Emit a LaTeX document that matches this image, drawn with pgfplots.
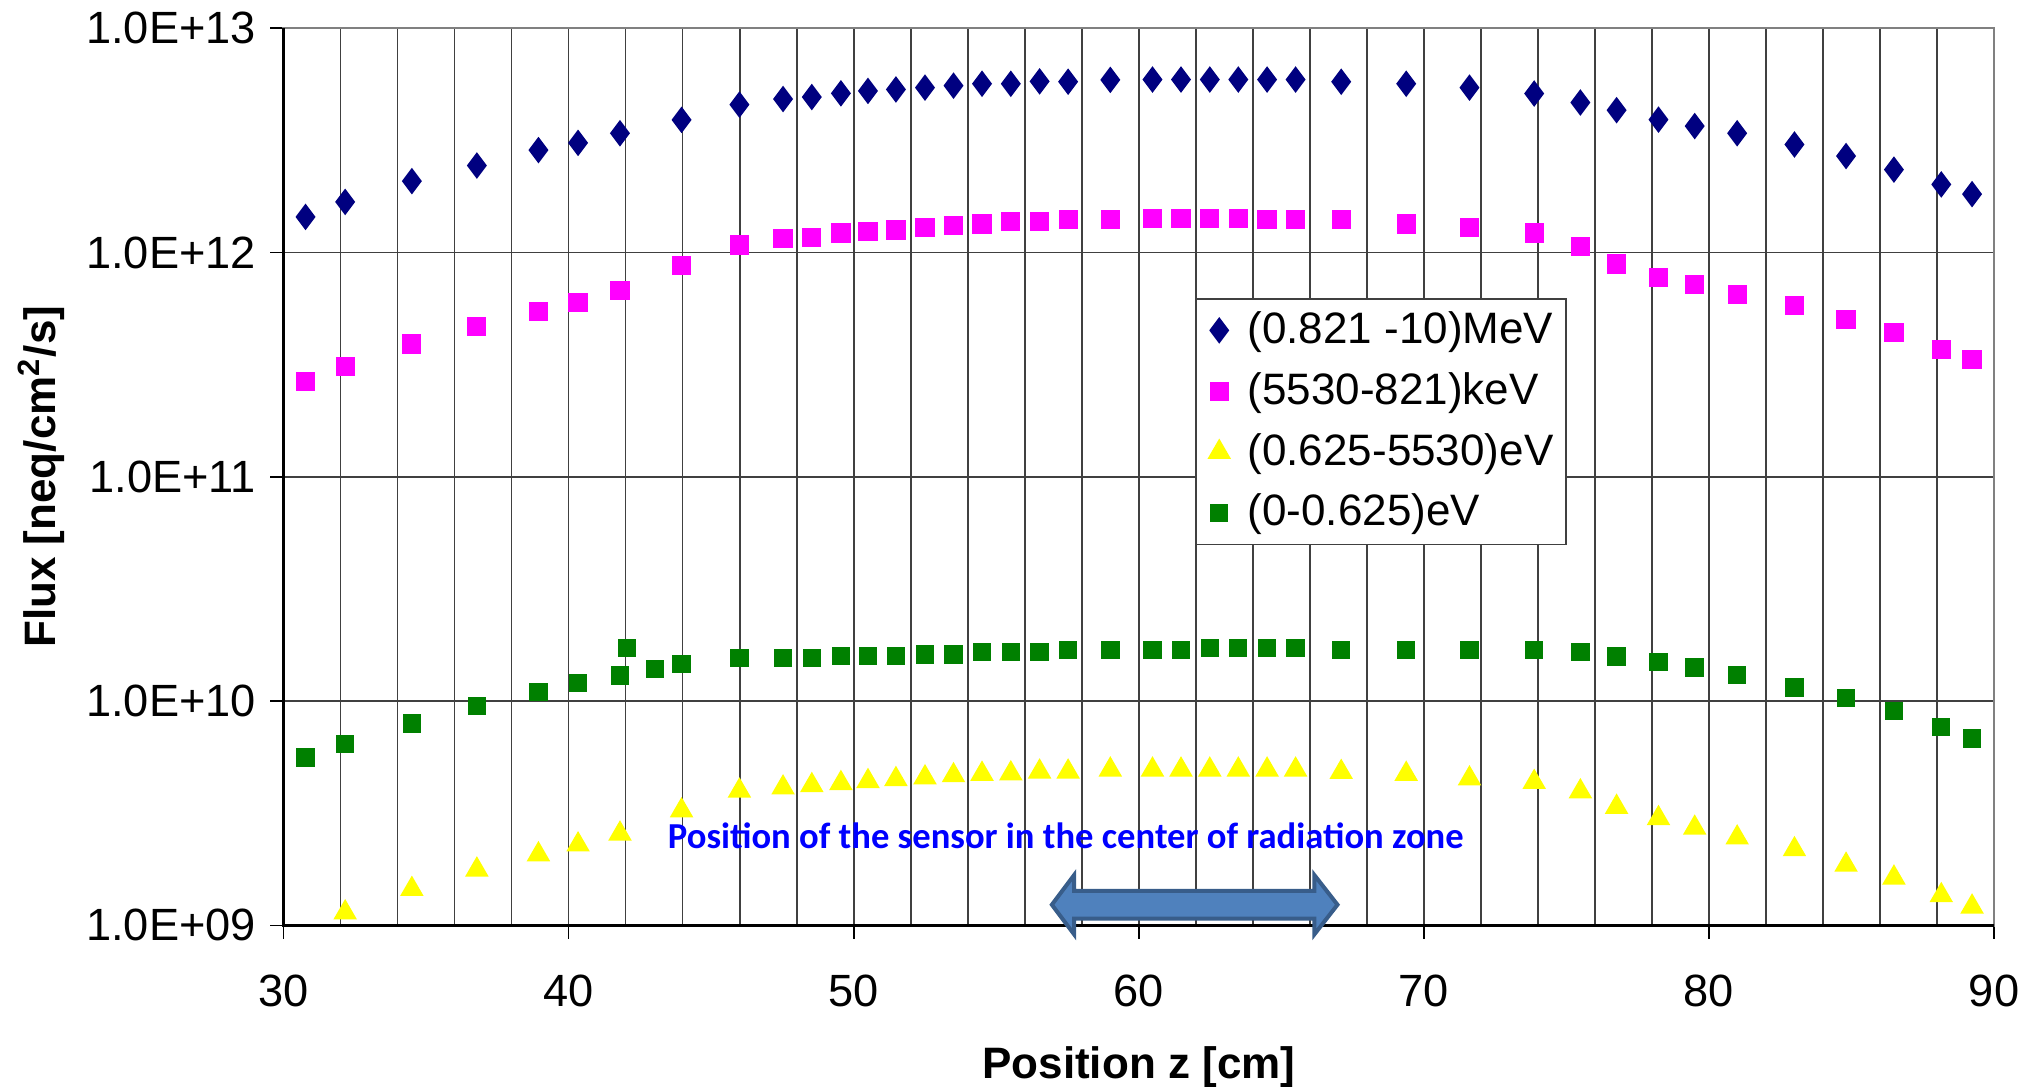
\documentclass[border=0pt]{standalone}
\usepackage{fontspec}
\setmainfont{Liberation Sans}
\newfontfamily\calibri{Carlito}
\usepackage{pgfplots}
\pgfplotsset{compat=1.18}

\definecolor{fluxnavy}{RGB}{0,0,128}
\definecolor{fluxpink}{RGB}{255,0,255}
\definecolor{fluxyellow}{RGB}{255,255,0}
\definecolor{fluxgreen}{RGB}{0,128,0}
\definecolor{annblue}{RGB}{0,0,255}
\definecolor{arrowfill}{RGB}{79,129,189}
\definecolor{arrowedge}{RGB}{56,93,138}

\begin{document}
\begin{tikzpicture}
\useasboundingbox (0,0) rectangle (505.25pt,271.75pt);
\begin{axis}[
  at={(70.9pt,40.4pt)}, anchor=south west,
  scale only axis, width=427.6pt, height=224.3pt,
  xmin=30, xmax=90,
  ymode=log, ymin=1e9, ymax=1e13,
  xtick={30,40,50,60,70,80,90},
  minor x tick num=4,
  ytick={1e9,1e10,1e11,1e12,1e13},
  yticklabels={1.0E+09,1.0E+10,1.0E+11,1.0E+12,1.0E+13},
  yminorticks=false,
  /pgf/number format/assume math mode=true,
  tick pos=left, tick align=outside,
  major tick length=3.4pt, minor tick length=0pt,
  tick style={black, line width=0.4pt},
  xmajorgrids, xminorgrids, ymajorgrids,
  major grid style={black!75, line width=0.4pt},
  minor grid style={black!75, line width=0.4pt},
  axis line style={draw=black!50, line width=0.6pt},
  tick label style={font=\fontsize{11.3}{13}\selectfont},
  xticklabel style={yshift=-5.5pt},
  xlabel={Position z [cm]},
  ylabel={Flux [neq/cm\textsuperscript{2}/s]},
  label style={font=\bfseries\fontsize{11}{13}\selectfont},
  xlabel style={at={(rel axis cs:0.5,-0.158)}, anchor=center},
  ylabel style={at={(rel axis cs:-0.1417,0.5)}, anchor=center},
  legend cell align=left,
  legend style={at={(rel axis cs:0.533,0.699)}, anchor=north west,
    draw=black!75, fill=white, font=\fontsize{11}{13}\selectfont,
    row sep=1.75pt, inner xsep=3.2pt, inner ysep=1.1pt,
    nodes={inner xsep=0pt},
    /tikz/every odd column/.append style={column sep=4.5pt}},
  clip=false,
]
\addplot[only marks, mark=diamond*, mark size=3pt, color=fluxnavy] coordinates {
(30.77,1.44e12) (32.16,1.68e12) (34.50,2.08e12) (36.78,2.44e12) (38.94,2.86e12)
(40.33,3.08e12) (41.80,3.40e12) (43.96,3.90e12) (45.99,4.56e12) (47.52,4.83e12)
(48.53,4.93e12) (49.55,5.12e12) (50.50,5.25e12) (51.48,5.33e12) (52.50,5.43e12)
(53.50,5.54e12) (54.50,5.65e12) (55.51,5.65e12) (56.52,5.79e12) (57.52,5.77e12)
(59.00,5.88e12) (60.48,5.90e12) (61.48,5.90e12) (62.49,5.90e12) (63.49,5.90e12)
(64.50,5.90e12) (65.50,5.90e12) (67.10,5.77e12) (69.38,5.65e12) (71.60,5.43e12)
(73.87,5.11e12) (75.49,4.66e12) (76.76,4.31e12) (78.23,3.91e12) (79.50,3.66e12)
(80.99,3.40e12) (83.00,3.03e12) (84.81,2.69e12) (86.49,2.34e12) (88.15,2.01e12)
(89.23,1.82e12)
};
\addlegendentry{(0.821 -10)MeV}
\addplot[only marks, mark=square*, mark size=2.2pt, color=fluxpink] coordinates {
(30.77,2.65e11) (32.16,3.10e11) (34.50,3.91e11) (36.78,4.68e11) (38.94,5.46e11)
(40.33,6.00e11) (41.80,6.76e11) (43.96,8.74e11) (45.99,1.08e12) (47.52,1.15e12)
(48.53,1.17e12) (49.55,1.22e12) (50.50,1.24e12) (51.48,1.26e12) (52.50,1.29e12)
(53.50,1.32e12) (54.50,1.34e12) (55.51,1.37e12) (56.52,1.37e12) (57.52,1.40e12)
(59.00,1.40e12) (60.48,1.42e12) (61.48,1.42e12) (62.49,1.42e12) (63.49,1.42e12)
(64.50,1.40e12) (65.50,1.40e12) (67.10,1.40e12) (69.38,1.34e12) (71.60,1.29e12)
(73.87,1.22e12) (75.49,1.06e12) (76.76,8.89e11) (78.23,7.76e11) (79.50,7.17e11)
(80.99,6.49e11) (83.00,5.78e11) (84.81,5.04e11) (86.49,4.40e11) (88.15,3.68e11)
(89.23,3.34e11)
};
\addlegendentry{(5530-821)keV}
\addplot[only marks, mark=triangle*, mark size=3pt, color=fluxyellow] coordinates {
(32.16,1.14e9) (34.50,1.45e9) (36.78,1.77e9) (38.94,2.07e9)
(40.33,2.29e9) (41.80,2.56e9) (43.96,3.25e9) (45.99,3.98e9) (47.52,4.11e9)
(48.53,4.21e9) (49.55,4.30e9) (50.50,4.39e9) (51.48,4.48e9) (52.50,4.56e9)
(53.50,4.66e9) (54.50,4.73e9) (55.51,4.75e9) (56.52,4.84e9) (57.52,4.84e9)
(59.00,4.94e9) (60.48,4.94e9) (61.48,4.94e9) (62.49,4.94e9) (63.49,4.94e9)
(64.50,4.94e9) (65.50,4.94e9) (67.10,4.82e9) (69.38,4.73e9) (71.60,4.51e9)
(73.87,4.35e9) (75.49,3.95e9) (76.76,3.37e9) (78.23,3.00e9) (79.50,2.72e9)
(80.99,2.46e9) (83.00,2.18e9) (84.81,1.86e9) (86.49,1.63e9) (88.15,1.36e9)
(89.23,1.21e9)
};
\addlegendentry{(0.625-5530)eV}
\addplot[only marks, mark=square*, mark size=2.1pt, color=fluxgreen] coordinates {
(30.77,5.61e9) (32.16,6.43e9) (34.50,7.96e9) (36.78,9.50e9) (38.94,1.096e10)
(40.33,1.205e10) (41.80,1.30e10) (42.05,1.72e10) (43.03,1.39e10) (43.96,1.46e10)
(45.99,1.56e10) (47.52,1.56e10) (48.53,1.56e10) (49.55,1.59e10) (50.50,1.59e10)
(51.48,1.59e10) (52.50,1.61e10) (53.50,1.61e10) (54.50,1.65e10) (55.51,1.65e10)
(56.52,1.65e10) (57.52,1.69e10) (59.00,1.69e10) (60.48,1.69e10) (61.48,1.69e10)
(62.49,1.72e10) (63.49,1.72e10) (64.50,1.72e10) (65.50,1.72e10) (67.10,1.69e10)
(69.38,1.69e10) (71.60,1.69e10) (73.87,1.69e10) (75.49,1.65e10) (76.76,1.58e10)
(78.23,1.49e10) (79.50,1.41e10) (80.99,1.31e10) (83.00,1.15e10) (84.81,1.03e10)
(86.49,9.02e9) (88.15,7.66e9) (89.23,6.82e9)
};
\addlegendentry{(0-0.625)eV}
% left and bottom axis lines are black, top and right grey
\draw[black, line width=0.6pt] (rel axis cs:0,1) -- (rel axis cs:0,0) -- (rel axis cs:1,0);
\node[font=\calibri\bfseries\fontsize{9.15}{11}\selectfont, text=annblue]
  at (axis cs:57.44,2.52e9) {Position of the sensor in the center of radiation zone};
\filldraw[fill=arrowfill, draw=arrowedge, line width=1pt, line join=miter]
  (axis cs:56.95,1.236e9) -- (axis cs:57.73,1.675e9) -- (axis cs:57.73,1.426e9)
  -- (axis cs:66.16,1.426e9) -- (axis cs:66.16,1.675e9) -- (axis cs:66.97,1.236e9)
  -- (axis cs:66.16,0.912e9) -- (axis cs:66.16,1.072e9) -- (axis cs:57.73,1.072e9)
  -- (axis cs:57.73,0.912e9) -- cycle;
\end{axis}
\end{tikzpicture}
\end{document}
